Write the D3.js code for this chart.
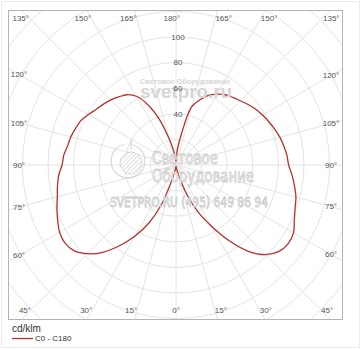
<!DOCTYPE html>
<html lang="ru">
<head>
<meta charset="UTF-8">
<title>КСС C0 - C180</title>
<script src="https://d3js.org/d3.v7.min.js"></script>
<style>
  body { margin: 0; background: #fff; }
  svg { display: block; font-family: "Liberation Sans", Arial, sans-serif; }
  .grid { fill: none; stroke: #e4e4e4; stroke-width: 1; }
  .lbl { font-size: 8px; fill: #555; }
  .wm-solid { fill: #d6d6d6; font-weight: bold; }
  .wm-outline { fill: #fff; stroke: #c9c9c9; stroke-width: 0.8; font-family: "DejaVu Sans Condensed", "Liberation Sans Narrow", sans-serif; }
</style>
</head>
<body>
<svg id="chart" width="362" height="350"></svg>
<script>
// gamma angles, degrees (0 = down, 180 = up)
let gammas = d3.range(0, 181, 5);
// C180 plane, left half, cd/klm
let c180 = [1, 2, 4, 11, 32, 50, 64, 77, 89, 98, 104, 106, 105, 102, 99, 96, 94, 92, 89,
            88, 86, 85, 83.5, 82, 79, 76, 74, 72, 69.5, 67, 62, 52, 38, 22, 12, 6, 3];
// C0 plane, right half
let c0 = [1, 2, 4, 9, 24, 40, 55, 72, 88, 99, 105, 107, 106, 102, 99, 97, 94, 91, 88,
          87, 85.5, 84, 82, 80, 78, 76, 73.5, 71, 69, 67, 64, 60, 54, 47, 25, 12, 3];
let radialTicks = [40, 60, 80, 100];
let gridRings = [20, 40, 60, 80, 100, 120, 140, 160, 180];
let angleTicks = d3.range(0, 181, 15);

let svg = d3.select('#chart');
let frame = {x0: 8, y0: 10, x1: 342, y1: 319};
let cx = 176, cy = 165;
let r = d3.scaleLinear().domain([0, 100]).range([0, 128]);
let rad = d => d * Math.PI / 180;

// faint outer border
svg.append('rect').attr('x', 1.5).attr('y', 1.5).attr('width', 358).attr('height', 346)
    .attr('fill', 'none').attr('stroke', '#ececec');

svg.append('clipPath').attr('id', 'plotclip').append('rect')
    .attr('x', frame.x0).attr('y', frame.y0)
    .attr('width', frame.x1 - frame.x0).attr('height', frame.y1 - frame.y0);

let plot = svg.append('g').attr('clip-path', 'url(#plotclip)');
let g = plot.append('g').attr('transform', `translate(${cx},${cy})`);

// grid rings and spokes
g.selectAll('circle.grid').data(gridRings).join('circle')
    .attr('class', 'grid').attr('r', d => r(d));
g.selectAll('line.grid').data(d3.range(0, 180, 15)).join('line')
    .attr('class', 'grid')
    .attr('x1', d => -Math.sin(rad(d)) * 300).attr('y1', d => Math.cos(rad(d)) * 300)
    .attr('x2', d => Math.sin(rad(d)) * 300).attr('y2', d => -Math.cos(rad(d)) * 300);

// watermark
let wm = plot.append('g');
wm.append('text').attr('class', 'wm-solid').attr('x', 140).attr('y', 84)
    .attr('font-size', 8).attr('textLength', 90).attr('lengthAdjust', 'spacingAndGlyphs')
    .text('Световое Оборудование');
wm.append('text').attr('class', 'wm-solid').attr('x', 140).attr('y', 98)
    .attr('font-size', 19).attr('textLength', 92).attr('lengthAdjust', 'spacingAndGlyphs')
    .text('svetpro.ru');
let logo = wm.append('g').attr('transform', 'translate(128,161)');
let hatch = svg.append('defs').append('pattern').attr('id', 'hatch')
    .attr('width', 3).attr('height', 3).attr('patternUnits', 'userSpaceOnUse')
    .attr('patternTransform', 'rotate(45)');
hatch.append('rect').attr('width', 3).attr('height', 3).attr('fill', '#fff');
hatch.append('line').attr('x1', 0).attr('y1', 0).attr('x2', 0).attr('y2', 3)
    .attr('stroke', '#c9c9c9').attr('stroke-width', 1.2);
logo.append('path')
    .attr('d', d3.arc()({innerRadius: 16.5, outerRadius: 17.5, startAngle: rad(12), endAngle: rad(348)}))
    .attr('fill', '#cfcfcf');
logo.append('line').attr('x1', 3).attr('y1', -22).attr('x2', 3).attr('y2', -12)
    .attr('stroke', '#cfcfcf').attr('stroke-width', 1);
logo.append('circle').attr('cx', 3).attr('cy', 2).attr('r', 11)
    .attr('fill', 'url(#hatch)').attr('stroke', '#cfcfcf').attr('stroke-width', 0.8);
wm.append('text').attr('class', 'wm-outline').attr('x', 152).attr('y', 164)
    .attr('font-size', 18).attr('textLength', 66).attr('lengthAdjust', 'spacingAndGlyphs')
    .text('Световое');
wm.append('text').attr('class', 'wm-outline').attr('x', 152).attr('y', 182)
    .attr('font-size', 18).attr('textLength', 102).attr('lengthAdjust', 'spacingAndGlyphs')
    .text('Оборудование');
wm.append('text').attr('class', 'wm-outline').attr('x', 110).attr('y', 207)
    .attr('font-size', 14).attr('textLength', 158).attr('lengthAdjust', 'spacingAndGlyphs')
    .text('SVETPRO.RU  (495) 649 86 94');

// frame
svg.append('rect').attr('x', frame.x0 + 0.5).attr('y', frame.y0 + 0.5)
    .attr('width', frame.x1 - frame.x0).attr('height', frame.y1 - frame.y0)
    .attr('fill', 'none').attr('stroke', '#b4b4b4');

// radial value labels
svg.selectAll('text.rlbl').data(radialTicks).join('text')
    .attr('class', 'lbl rlbl').attr('x', cx + 2).attr('y', d => cy - r(d))
    .attr('dy', '0.35em').attr('text-anchor', 'middle').text(d => d);

// angle labels along the frame
let box = {xl: 19, xr: 331, yt: 18, yb: 310};
let angleLabels = [];
angleTicks.forEach(a => {
    if (a === 0 || a === 180) {
        angleLabels.push({a: a, x: cx + 4, y: a === 0 ? box.yb : box.yt, anchor: 'end'});
        return;
    }
    [-1, 1].forEach(s => {
        let sx = Math.sin(rad(a)), dy = Math.cos(rad(a));
        let tv = (s < 0 ? cx - box.xl : box.xr - cx) / sx;
        let th = (dy > 0 ? box.yb - cy : cy - box.yt) / Math.abs(dy);
        if (tv <= th) {
            angleLabels.push({a: a, x: s < 0 ? box.xl : box.xr, y: cy + dy * tv, anchor: 'middle'});
        } else {
            angleLabels.push({a: a, x: cx + s * sx * th, y: dy > 0 ? box.yb : box.yt,
                anchor: s < 0 ? 'end' : 'start'});
        }
    });
});
svg.selectAll('text.albl').data(angleLabels).join('text')
    .attr('class', 'lbl albl').attr('x', d => d.x).attr('y', d => d.y)
    .attr('dy', '0.35em').attr('text-anchor', d => d.anchor).text(d => d.a + '°');

// the curve: left half C180 (gamma 0 -> 180), then right half C0 (gamma 180 -> 0)
let pts = gammas.map((ga, i) => [Math.PI + rad(ga), r(c180[i])]);
for (let i = gammas.length - 2; i > 0; i--) {
    pts.push([2 * Math.PI + Math.PI - rad(gammas[i]), r(c0[i])]);
}
let curve = d3.lineRadial().curve(d3.curveCatmullRomClosed.alpha(0.5));
g.append('path').attr('d', curve(pts))
    .attr('fill', 'none').attr('stroke', '#b5302e').attr('stroke-width', 1.3);

// legend
svg.append('text').attr('x', 12).attr('y', 332).attr('font-size', 10).attr('fill', '#333')
    .text('cd/klm');
svg.append('line').attr('x1', 12).attr('x2', 33).attr('y1', 338.5).attr('y2', 338.5)
    .attr('stroke', '#b5302e').attr('stroke-width', 1.3);
svg.append('text').attr('x', 35).attr('y', 341).attr('font-size', 8).attr('fill', '#333')
    .text('C0 - C180');
</script>
</body>
</html>
